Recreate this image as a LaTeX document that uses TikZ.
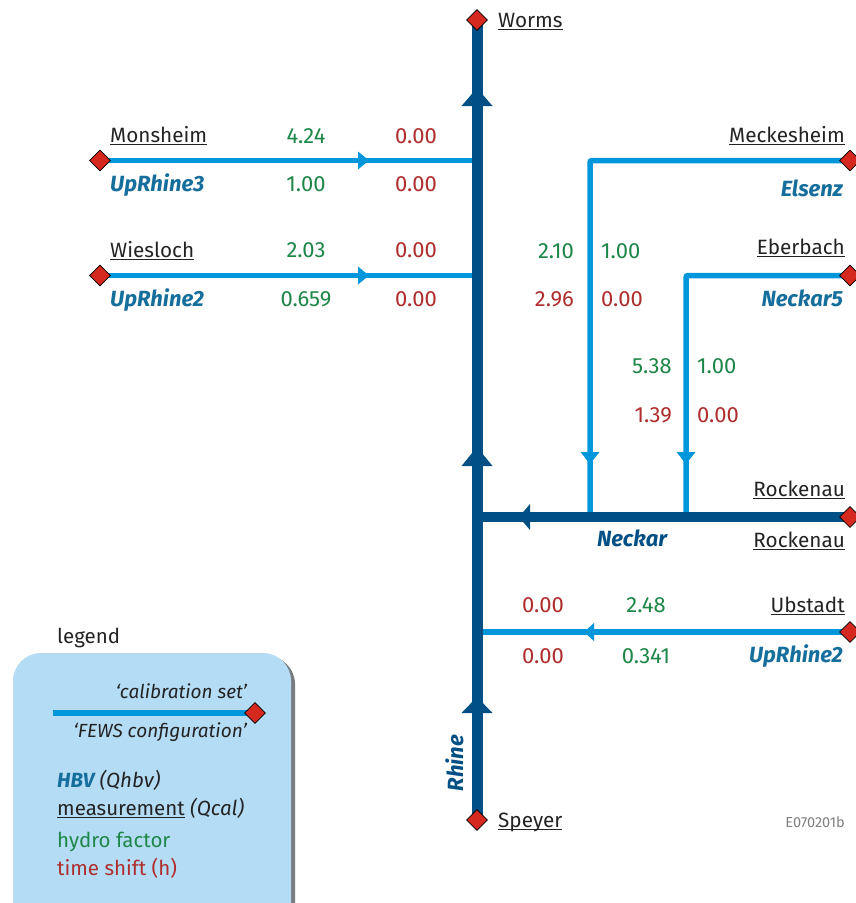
\documentclass[tikz,border=0pt]{standalone}
\usepackage{fontspec}
\setmainfont{Fira Sans}
\usetikzlibrary{shapes.geometric}
\definecolor{rhinec}{RGB}{0,80,133}
\definecolor{lightc}{RGB}{0,150,220}
\definecolor{diac}{RGB}{213,40,30}
\definecolor{greenc}{RGB}{30,135,72}
\definecolor{redc}{RGB}{175,45,45}
\definecolor{labelc}{RGB}{21,110,156}
\definecolor{txtc}{RGB}{35,35,35}
\definecolor{legfill}{RGB}{180,220,245}
\definecolor{shadowc}{RGB}{120,125,130}
\newcommand\myul[1]{\setbox0=\hbox{#1}\rlap{\rule[-2.8pt]{\wd0}{1.3pt}}\box0\relax}
\tikzset{
  lightline/.style={draw=lightc, line width=5.5pt, rounded corners=2pt},
  darkline/.style={draw=rhinec, line width=10pt},
  dia/.style={diamond, draw=black, line width=0.7pt, fill=diac, inner sep=0pt, minimum width=21pt, minimum height=21pt},
  txt/.style={font=\fontsize{20.7}{24}\selectfont, inner sep=0pt, text=txtc},
  gnum/.style={txt, font=\fontsize{22}{26}\selectfont, text=greenc},
  rnum/.style={txt, font=\fontsize{22}{26}\selectfont, text=redc},
  lbl/.style={font=\fontsize{22}{26}\selectfont\bfseries\itshape, inner sep=0pt, text=labelc},
  leg/.style={font=\fontsize{20.5}{24}\selectfont, inner sep=0pt, text=txtc},
  legi/.style={font=\fontsize{19}{23}\selectfont\itshape, inner sep=0pt, text=txtc},
}
\begin{document}
\begin{tikzpicture}[x=1pt,y=-1pt]
\useasboundingbox (0,0) rectangle (856,903);
\clip (0,0) rectangle (856,903);
\fill[white] (0,0) rectangle (856,903);

% ---------- legend ----------
\fill[shadowc, rounded corners=28pt] (17,656) rectangle (295,950);
\fill[legfill, rounded corners=28pt] (13,653) rectangle (291,950);
\node[leg, anchor=base west] (legT) at (57,643) {legend};
\node[legi, anchor=base east] (cal) at (247,698) {`calibration set'};
\coordinate (legL) at (53,713);
\coordinate (legD) at (255,713);
\draw[lightline] (legL) -- (legD);
\node[dia] (legDia) at (legD) {};
\node[legi, anchor=base east] (fews) at (247,737) {`FEWS configuration'};
\node[leg, anchor=base west] (hbv) at (57,787) {\textcolor{labelc}{\bfseries\itshape HBV} \textit{(Qhbv)}};
\node[leg, anchor=base west] (meas) at (57,815) {\myul{measurement} \textit{(Qcal)}};
\node[leg, anchor=base west, text=greenc] (hf) at (57,847) {hydro factor};
\node[leg, anchor=base west, text=redc] (ts) at (57,875) {time shift (h)};

% ---------- coordinates ----------
\coordinate (rT) at (477,20);
\coordinate (rB) at (477,820);
\coordinate (monD) at (100,160.5);
\coordinate (monJ) at (477,160.5);
\coordinate (wieD) at (100,275.5);
\coordinate (wieJ) at (477,275.5);
\coordinate (mecD) at (850,160.5);
\coordinate (mecC) at (590,160.5);
\coordinate (mecJ) at (590,517);
\coordinate (ebeD) at (850,275.5);
\coordinate (ebeC) at (686,275.5);
\coordinate (ebeJ) at (686,517);
\coordinate (rocD) at (850,517);
\coordinate (rocJ) at (477,517);
\coordinate (ubsD) at (850,632);
\coordinate (ubsJ) at (477,632);

% ---------- connectors ----------
\draw[lightline] (monD) -- (monJ);
\draw[lightline] (wieD) -- (wieJ);
\draw[lightline] (mecD) -- (mecC) -- (mecJ);
\draw[lightline] (ebeD) -- (ebeC) -- (ebeJ);
\draw[lightline] (ubsD) -- (ubsJ);
\draw[darkline] (rocD) -- (rocJ);
\draw[darkline, line width=11pt] (rB) -- (rT);

% ---------- arrow heads ----------
\fill[rhinec] (477,88) -- ++(15.5,18) -- ++(-31,0) -- cycle;
\fill[rhinec] (477,447) -- ++(15.5,19) -- ++(-31,0) -- cycle;
\fill[rhinec] (477,697) -- ++(15.5,16) -- ++(-31,0) -- cycle;
\fill[rhinec] (519,517) -- ++(11,-13) -- ++(0,26) -- cycle;
\fill[lightc] (369,160.5) -- ++(-11,-9) -- ++(0,18) -- cycle;
\fill[lightc] (369,275.5) -- ++(-11,-9) -- ++(0,18) -- cycle;
\fill[lightc] (590,464) -- ++(-9.5,-12) -- ++(19,0) -- cycle;
\fill[lightc] (686,464) -- ++(-9.5,-12) -- ++(19,0) -- cycle;
\fill[lightc] (584,632) -- ++(10,-9) -- ++(0,18) -- cycle;

% ---------- stations ----------
\node[dia] (wormsD) at (rT) {};
\node[dia] (speyerD) at (rB) {};
\node[dia] (monsD) at (monD) {};
\node[dia] (wiesD) at (wieD) {};
\node[dia] (meckD) at (mecD) {};
\node[dia] (eberD) at (ebeD) {};
\node[dia] (rockD) at (rocD) {};
\node[dia] (ubstD) at (ubsD) {};

% ---------- labels ----------
\node[txt, anchor=base west] (worms) at (498,27) {\myul{Worms}};
\node[txt, anchor=base west] (speyer) at (498,827) {\myul{Speyer}};

\node[txt, anchor=base west] (mons) at (110,142) {\myul{Monsheim}};
\node[lbl, anchor=base west] (upr3) at (110,191) {UpRhine3};
\node[gnum, anchor=base] (m1) at (306,143) {4.24};
\node[gnum, anchor=base] (m2) at (306,191) {1.00};
\node[rnum, anchor=base] (m3) at (416,143) {0.00};
\node[rnum, anchor=base] (m4) at (416,191) {0.00};

\node[txt, anchor=base west] (wies) at (110,257) {\myul{Wiesloch}};
\node[lbl, anchor=base west] (upr2a) at (110,306) {UpRhine2};
\node[gnum, anchor=base] (w1) at (306,257) {2.03};
\node[gnum, anchor=base] (w2) at (306,306) {0.659};
\node[rnum, anchor=base] (w3) at (416,257) {0.00};
\node[rnum, anchor=base] (w4) at (416,306) {0.00};

\node[txt, anchor=base east] (meck) at (845,142) {\myul{Meckesheim}};
\node[lbl, anchor=base east] (elsenz) at (843,196) {Elsenz};
\node[txt, anchor=base east] (eber) at (845,254) {\myul{Eberbach}};
\node[lbl, anchor=base east] (neck5) at (843,306) {Neckar5};

\node[gnum, anchor=base east] (e1) at (574,258) {2.10};
\node[gnum, anchor=base west] (e2) at (601,258) {1.00};
\node[rnum, anchor=base east] (e3) at (574,306) {2.96};
\node[rnum, anchor=base west] (e4) at (601,306) {0.00};

\node[gnum, anchor=base east] (n1) at (672,373) {5.38};
\node[gnum, anchor=base west] (n2) at (697,373) {1.00};
\node[rnum, anchor=base east] (n3) at (672,422) {1.39};
\node[rnum, anchor=base west] (n4) at (697,422) {0.00};

\node[txt, anchor=base east] (rock1) at (845,496) {\myul{Rockenau}};
\node[txt, anchor=base east] (rock2) at (845,547) {\myul{Rockenau}};
\node[lbl, anchor=base, text=rhinec] (neckar) at (632,546) {Neckar};

\node[txt, anchor=base east] (ubst) at (845,612) {\myul{Ubstadt}};
\node[lbl, anchor=base east] (upr2b) at (843,662) {UpRhine2};
\node[rnum, anchor=base] (u1) at (543,612) {0.00};
\node[rnum, anchor=base] (u2) at (543,663) {0.00};
\node[gnum, anchor=base] (u3) at (646,612) {2.48};
\node[gnum, anchor=base] (u4) at (646,663) {0.341};

\node[lbl, text=rhinec, rotate=90, anchor=base] (rhine) at (463,763) {Rhine};
\node[font=\fontsize{14.5}{17}\selectfont, inner sep=0pt, text=gray, anchor=base east] (code) at (845,827) {E070201b};
\end{tikzpicture}
\end{document}
